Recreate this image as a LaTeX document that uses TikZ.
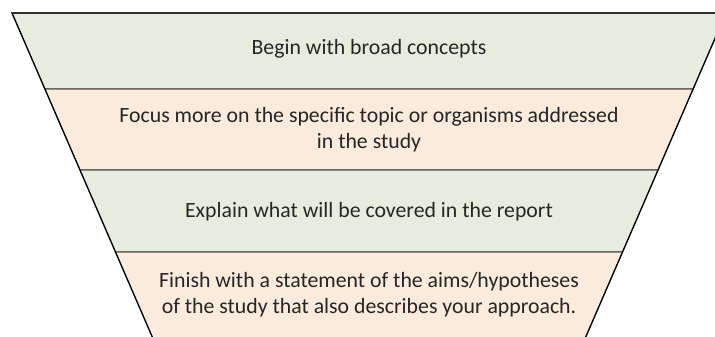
\documentclass[tikz,border=0pt]{standalone}
\usepackage{fontspec}
\setmainfont{Carlito}
\definecolor{bandgreen}{RGB}{230,237,223}
\definecolor{bandtan}{RGB}{251,235,220}
\tikzset{
    band/.style={draw=black!65,line width=0.6pt},
    bandtext/.style={align=center,text=black!85,font=\fontsize{12.4}{14.7}\selectfont}
}
\begin{document}
\begin{tikzpicture}[x=0.02cm,y=-0.02cm]
    \useasboundingbox (0,0) rectangle (715,336);
    \clip (0,0) rectangle (715,336);
    \foreach \ya/\yb/\c in {13/89/bandgreen,89/170/bandtan,170/252/bandgreen,252/345/bandtan}
        \draw[band,fill=\c] ({12+0.433*(\ya-13)},\ya) -- ({726-0.433*(\ya-13)},\ya)
            -- ({726-0.433*(\yb-13)},\yb) -- ({12+0.433*(\yb-13)},\yb) -- cycle;
    \draw[line width=0.7pt] ({12+0.433*332},345) -- (12,13) -- (726,13) -- ({726-0.433*332},345);
    \node[bandtext] (broad) at (369,49) {Begin with broad concepts};
    \node[bandtext] (focus) at (369,130) {Focus more on the specific topic or organisms addressed\\in the study};
    \node[bandtext] (explain) at (369,212) {Explain what will be covered in the report};
    \node[bandtext] (finish) at (369,295) {Finish with a statement of the aims/hypotheses\\of the study that also describes your approach.};
\end{tikzpicture}
\end{document}
